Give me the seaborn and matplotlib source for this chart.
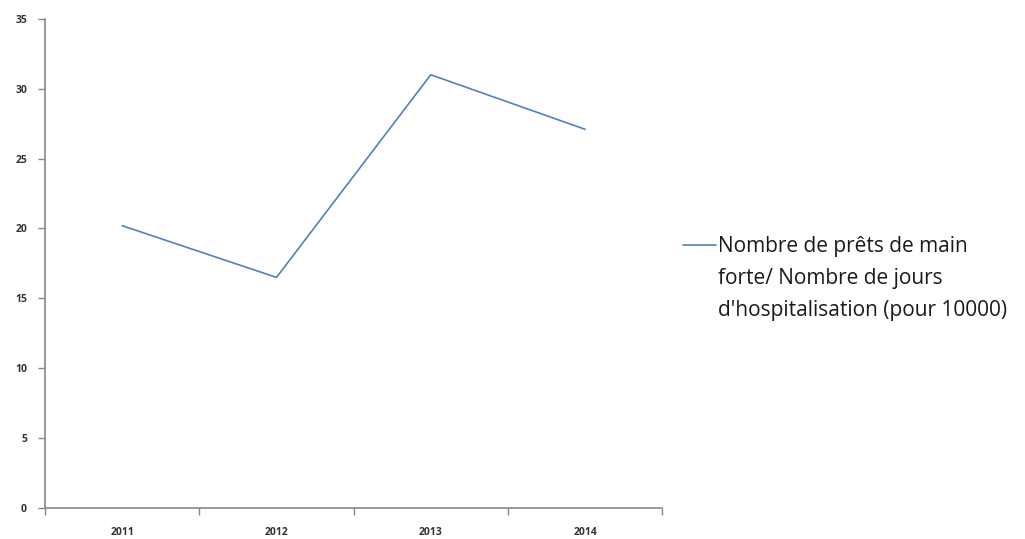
import matplotlib
matplotlib.use("Agg")
import matplotlib.pyplot as plt
from matplotlib.lines import Line2D
import seaborn as sns
import pandas as pd

# values
years = ["2011", "2012", "2013", "2014"]
ratio = [20.2, 16.5, 31.0, 27.1]
label_lines = ["Nombre de prêts de main", "forte/ Nombre de jours", "d'hospitalisation (pour 10000)"]
y_ticks = [0, 5, 10, 15, 20, 25, 30, 35]

df = pd.DataFrame({"annee": years, "ratio": ratio})

sns.set_style("white")
plt.rcParams["font.family"] = ["Open Sans", "DejaVu Sans"]

fig = plt.figure(figsize=(10.25, 5.39), dpi=100)
ax = fig.add_axes([0.044, 0.0575, 0.602, 0.9075])

line_color = "#4F81BD"
sns.lineplot(data=df, x="annee", y="ratio", ax=ax, color=line_color,
             linewidth=1.2, sort=False, legend=False)

gray = "#878787"
ax.set_xlim(-0.5, len(years) - 0.5)
ax.set_ylim(0, 35)
ax.set_yticks(y_ticks)
ax.set_yticklabels([str(t) for t in y_ticks], fontsize=7.5, fontweight="bold", color="#333333")

# category boundaries get the tick marks, labels sit at centres
ax.set_xticks([i - 0.5 for i in range(len(years) + 1)])
ax.set_xticklabels([""] * (len(years) + 1))
ax.set_xticks(range(len(years)), minor=True)
ax.set_xticklabels(years, minor=True, fontsize=7.5, fontweight="bold", color="#333333")
ax.tick_params(axis="x", which="minor", bottom=False, length=0, pad=14)
ax.tick_params(axis="both", which="major", bottom=True, left=True, direction="out",
               length=5, width=1, color=gray)
ax.tick_params(axis="y", pad=8)

ax.set_xlabel("")
ax.set_ylabel("")
for side in ["top", "right"]:
    ax.spines[side].set_visible(False)
for side in ["left", "bottom"]:
    ax.spines[side].set_color(gray)
    ax.spines[side].set_linewidth(1.2)

# legend: handle on first line, wrapped text continues below
handles = [Line2D([], [], color=line_color, linewidth=1.2)]
handles += [Line2D([], [], color="none") for _ in label_lines[1:]]
leg = ax.legend(handles, label_lines, loc="upper left", bbox_to_anchor=(1.021, 0.573),
                frameon=False, fontsize=15, handlelength=1.55, handletextpad=0.12,
                labelspacing=0.52, borderaxespad=0)
for t in leg.get_texts():
    t.set_color("#1a1a1a")

fig.savefig("out.png", dpi=100)
